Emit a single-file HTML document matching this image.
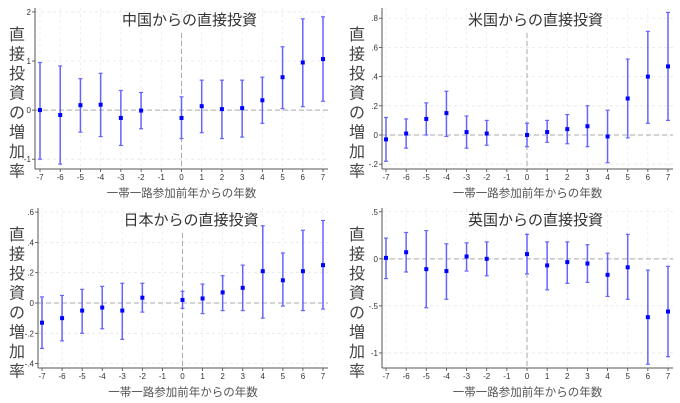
<!DOCTYPE html>
<html><head><meta charset="utf-8">
<style>
html,body{margin:0;padding:0;background:#fff;}
svg{display:block;font-family:"Liberation Sans","Noto Sans CJK JP",sans-serif;}
</style></head>
<body>
<svg id="c" width="680" height="403" viewBox="0 0 680 403"></svg>
<script>
const years = [-7,-6,-5,-4,-3,-2,0,1,2,3,4,5,6,7];
const xTicks = [-7,-6,-5,-4,-3,-2,-1,0,1,2,3,4,5,6,7];
const chinaEst = [0,-0.1,0.1,0.11,-0.16,-0.01,-0.16,0.08,0.02,0.04,0.2,0.67,0.97,1.04];
const chinaLo = [-1.0,-1.1,-0.45,-0.54,-0.72,-0.38,-0.58,-0.46,-0.58,-0.55,-0.27,0.03,0.07,0.18];
const chinaHi = [0.97,0.9,0.64,0.75,0.4,0.36,0.27,0.61,0.61,0.61,0.67,1.29,1.86,1.9];
const usEst = [-0.03,0.01,0.11,0.15,0.02,0.01,0.0,0.02,0.04,0.06,-0.01,0.25,0.40,0.47];
const usLo = [-0.18,-0.09,0.0,-0.01,-0.09,-0.07,-0.08,-0.05,-0.06,-0.08,-0.19,-0.02,0.08,0.10];
const usHi = [0.12,0.11,0.22,0.30,0.13,0.10,0.08,0.10,0.14,0.20,0.17,0.52,0.71,0.84];
const japanEst = [-0.13,-0.10,-0.05,-0.03,-0.05,0.035,0.02,0.03,0.07,0.10,0.21,0.15,0.21,0.25];
const japanLo = [-0.30,-0.25,-0.20,-0.17,-0.24,-0.06,-0.035,-0.07,-0.05,-0.05,-0.10,-0.02,-0.05,-0.04];
const japanHi = [0.04,0.05,0.09,0.11,0.13,0.13,0.077,0.125,0.18,0.25,0.51,0.33,0.48,0.545];
const ukEst = [0.01,0.07,-0.11,-0.13,0.025,0.0,0.05,-0.07,-0.035,-0.05,-0.17,-0.09,-0.62,-0.56];
const ukLo = [-0.21,-0.14,-0.52,-0.43,-0.13,-0.18,-0.16,-0.33,-0.26,-0.25,-0.40,-0.43,-1.12,-1.04];
const ukHi = [0.22,0.28,0.30,0.16,0.17,0.18,0.26,0.18,0.18,0.15,0.06,0.26,-0.12,-0.08];
const chinaTicks = [2,1,0,-1];
const chinaTickLabels = ["2","1","0","-1"];
const usTicks = [0.8,0.6,0.4,0.2,0,-0.2];
const usTickLabels = [".8",".6",".4",".2","0","-.2"];
const japanTicks = [0.6,0.4,0.2,0,-0.2,-0.4];
const japanTickLabels = [".6",".4",".2","0","-.2","-.4"];
const ukTicks = [0.5,0,-0.5,-1];
const ukTickLabels = [".5","0","-.5","-1"];

const svg = document.getElementById('c');
const NS = 'http://www.w3.org/2000/svg';
function mk(tag, attrs, parent){
  const e = document.createElementNS(NS, tag);
  for (const k in attrs) e.setAttribute(k, attrs[k]);
  parent.appendChild(e);
  return e;
}

function panel(cfg){
  const g = mk('g', {}, svg);
  
  
  const L = cfg.axisX, R = cfg.right, T = cfg.top, B = cfg.bottom;
  const xs = v => cfg.x0 + (v + 7) * (cfg.x7 - cfg.x0) / 14;
  const ys = v => T + (cfg.ymax - v) * (B - T) / (cfg.ymax - cfg.ymin);
  // grid
  cfg.ticks.forEach((t,i) => {
    const y = ys(t);
    const gl = mk('line', {x1:L, x2:R, y1:y, y2:y, stroke:'#e6e6e6', 'stroke-width':0.8, 'stroke-dasharray':'3,3'}, g);
    
    
    const tk = mk('line', {x1:L-3, x2:L, y1:y, y2:y, stroke:'#444', 'stroke-width':0.8}, g);
    
    
    const tl = mk('text', {x:L-4, y:y+3, 'text-anchor':'end', 'font-size':8, fill:'#333'}, g);
    tl.textContent = cfg.tickLabels[i];
    
    
  });
  xTicks.forEach(t => {
    const x = xs(t);
    const gl = mk('line', {x1:x, x2:x, y1:T, y2:B, stroke:'#ececec', 'stroke-width':0.8, 'stroke-dasharray':'3,3'}, g);
    
    
    const tk = mk('line', {x1:x, x2:x, y1:B, y2:B+3, stroke:'#444', 'stroke-width':0.8}, g);
    
    
    const tl = mk('text', {x:x, y:B+11, 'text-anchor':'middle', 'font-size':8, fill:'#333'}, g);
    tl.textContent = String(t);
    
    
  });
  // zero lines
  const zh = mk('line', {x1:L, x2:R, y1:ys(0), y2:ys(0), stroke:'#aaa', 'stroke-width':1, 'stroke-dasharray':'5,3'}, g);
  
  
  const zv = mk('line', {x1:xs(0), x2:xs(0), y1:T+25, y2:B, stroke:'#aaa', 'stroke-width':1, 'stroke-dasharray':'5,3'}, g);
  
  
  // axes
  const ay = mk('line', {x1:L, x2:L, y1:T, y2:B, stroke:'#555', 'stroke-width':1}, g);
  
  
  const ax = mk('line', {x1:L, x2:R, y1:B, y2:B, stroke:'#555', 'stroke-width':1}, g);
  
  
  // series
  years.forEach((yr,i) => {
    const x = xs(yr);
    const bar = mk('line', {x1:x, x2:x, y1:ys(cfg.lo[i]), y2:ys(cfg.hi[i]), stroke:'#6464ff', 'stroke-width':1.5}, g);
    
    
    [cfg.lo[i], cfg.hi[i]].forEach(v => {
      const cap = mk('line', {x1:x-2, x2:x+2, y1:ys(v), y2:ys(v), stroke:'#6464ff', 'stroke-width':1.2}, g);
      
      
    });
    const pt = mk('rect', {x:x-2, y:ys(cfg.est[i])-2, width:4, height:4, fill:'#0000ff'}, g);
    
    
  });
  // title
  const ti = mk('text', {x:(L+R)/2 + 8, y:T+17, 'text-anchor':'middle', 'font-size':15, fill:'#333'}, g);
  ti.textContent = cfg.title;
  
  
  // y title vertical
  const chars = '直接投資の増加率'.split('');
  const yt = mk('text', {'font-size':16, fill:'#444', 'text-anchor':'middle'}, g);
  
  
  chars.forEach((ch,k) => {
    const ts = mk('tspan', {x:cfg.ox + 17, y:T + 32 + k*19.5}, yt);
    ts.textContent = ch;
  });
  const xt = mk('text', {x:(L+R)/2, y:B+28, 'text-anchor':'middle', 'font-size':11.5, fill:'#555'}, g);
  xt.textContent = '一帯一路参加前年からの年数';
  
  
}

panel({name:'china', title:'中国からの直接投資', ox:0, axisX:35, right:328, top:8, bottom:169, x0:40, x7:323,
  ymax:2.08, ymin:-1.2, ticks:chinaTicks, tickLabels:chinaTickLabels, est:chinaEst, lo:chinaLo, hi:chinaHi});
panel({name:'us', title:'米国からの直接投資', ox:340, axisX:382, right:673, top:8, bottom:169, x0:386, x7:668,
  ymax:0.87, ymin:-0.233, ticks:usTicks, tickLabels:usTickLabels, est:usEst, lo:usLo, hi:usHi});
panel({name:'japan', title:'日本からの直接投資', ox:0, axisX:38, right:328, top:208, bottom:368, x0:42, x7:323,
  ymax:0.627, ymin:-0.429, ticks:japanTicks, tickLabels:japanTickLabels, est:japanEst, lo:japanLo, hi:japanHi});
panel({name:'uk', title:'英国からの直接投資', ox:340, axisX:382, right:673, top:208, bottom:368, x0:386, x7:668,
  ymax:0.54, ymin:-1.16, ticks:ukTicks, tickLabels:ukTickLabels, est:ukEst, lo:ukLo, hi:ukHi});
</script>
</body></html>
